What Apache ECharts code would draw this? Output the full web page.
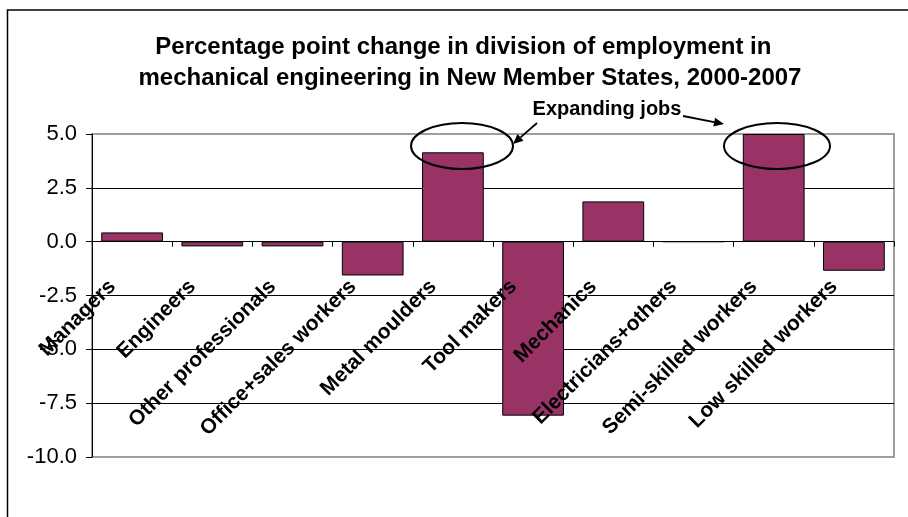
<!DOCTYPE html>
<html>
<head>
<meta charset="utf-8">
<script src="https://cdn.jsdelivr.net/npm/echarts@6/dist/echarts.min.js"></script>
<style>
  html, body { margin: 0; padding: 0; background: #fff; }
  #chart { width: 908px; height: 517px; }
</style>
</head>
<body>
<div id="chart"></div>
<script>
// Occupational groups on the category axis
const categories = [
  'Managers', 'Engineers', 'Other professionals', 'Office+sales workers',
  'Metal moulders', 'Tool makers', 'Mechanics', 'Electricians+others',
  'Semi-skilled workers', 'Low skilled workers'
];
// Percentage point change in share of employment, 2000-2007
const changeValues = [0.43, -0.22, -0.22, -1.57, 4.15, -8.08, 1.87, 0.0, 5.0, -1.35];
// Value axis range and step
const yMin = -10;
const yMax = 5;
const yStep = 2.5;

const titleText = 'Percentage point change in division of employment in  \nmechanical engineering in New Member States, 2000-2007';
const noteText = 'Expanding jobs';

const FONT = '"Liberation Sans", Arial, sans-serif';

// plot box
const GRID = { left: 92, right: 14, top: 134, bottom: 60 };
const plotHeight = 517 - GRID.top - GRID.bottom;
// lift the category axis (line, ticks and labels) up to the zero line
const zeroOffset = -plotHeight * (0 - yMin) / (yMax - yMin);

const chart = echarts.init(document.getElementById('chart'), null, { renderer: 'canvas' });

chart.setOption({
  backgroundColor: '#ffffff',
  animation: false,
  title: {
    text: titleText,
    left: 465,
    top: 27,
    textAlign: 'center',
    textStyle: {
      fontFamily: FONT,
      fontSize: 24,
      fontWeight: 'bold',
      lineHeight: 31,
      color: '#000'
    }
  },
  grid: {
    left: GRID.left,
    right: GRID.right,
    top: GRID.top,
    bottom: GRID.bottom,
    show: true,
    borderColor: '#808080',
    borderWidth: 1.5,
    backgroundColor: 'transparent',
    containLabel: false,
    outerBoundsMode: 'none'
  },
  xAxis: {
    type: 'category',
    data: categories,
    boundaryGap: true,
    position: 'bottom',
    offset: zeroOffset,
    z: 10,
    axisLine: { onZero: false, lineStyle: { color: '#000', width: 1 } },
    axisTick: { show: true, length: 5, lineStyle: { color: '#000' } },
    axisLabel: {
      interval: 0,
      rotate: 45,
      margin: 22,
      padding: [0, 28, 0, 0],
      fontFamily: FONT,
      fontSize: 21,
      fontWeight: 'bold',
      color: '#000'
    },
    splitLine: { show: false }
  },
  yAxis: {
    type: 'value',
    min: yMin,
    max: yMax,
    interval: yStep,
    axisLine: { show: true, lineStyle: { color: '#000', width: 1 } },
    axisTick: { show: true, length: 6, lineStyle: { color: '#000' } },
    axisLabel: {
      margin: 15,
      fontFamily: FONT,
      fontSize: 22,
      color: '#000',
      formatter: v => v.toFixed(1)
    },
    splitLine: {
      show: true,
      showMinLine: false,
      showMaxLine: false,
      lineStyle: { color: '#000', width: 1 }
    }
  },
  series: [{
    type: 'bar',
    data: changeValues,
    barCategoryGap: '23%',
    z: 2,
    itemStyle: { color: '#993366', borderColor: '#000', borderWidth: 1 }
  }]
});

// Arrow helper: shaft plus filled triangular head at (x2, y2)
function arrow(x1, y1, x2, y2) {
  const ang = Math.atan2(y2 - y1, x2 - x1);
  const len = 10, half = 4.5;
  const bx = x2 - len * Math.cos(ang), by = y2 - len * Math.sin(ang);
  const px = -Math.sin(ang) * half, py = Math.cos(ang) * half;
  return [
    { type: 'line', shape: { x1, y1, x2: bx, y2: by }, style: { stroke: '#000', lineWidth: 1.8 }, z: 20 },
    { type: 'polygon', shape: { points: [[x2, y2], [bx + px, by + py], [bx - px, by - py]] }, style: { fill: '#000' }, z: 20 }
  ];
}

chart.setOption({
  graphic: [
    // chart area frame
    { type: 'rect', shape: { x: 7.5, y: 10, width: 1000, height: 1000 },
      style: { fill: 'none', stroke: '#000', lineWidth: 1.5 }, z: 1 },
    // highlight rings around the expanding groups
    { type: 'ellipse', shape: { cx: 462, cy: 146, rx: 51, ry: 23 },
      style: { fill: 'none', stroke: '#000', lineWidth: 2 }, z: 20 },
    { type: 'ellipse', shape: { cx: 777, cy: 146, rx: 53, ry: 23 },
      style: { fill: 'none', stroke: '#000', lineWidth: 2 }, z: 20 },
    { type: 'text', x: 607, y: 109,
      style: { text: noteText, font: 'bold 20px ' + FONT, fill: '#000',
               textAlign: 'center', textVerticalAlign: 'middle' }, z: 20 },
    ...arrow(537, 123, 513, 144),
    ...arrow(683, 116, 724, 124)
  ]
});
</script>
</body>
</html>
